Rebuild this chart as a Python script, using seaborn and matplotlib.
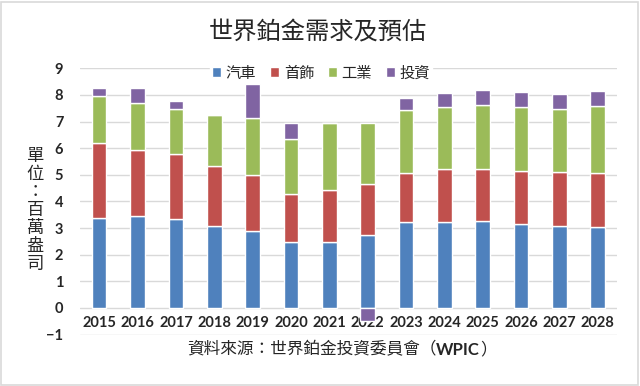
import numpy as np
import matplotlib
matplotlib.use('Agg')
import matplotlib.pyplot as plt
import seaborn as sns
from matplotlib.patches import Rectangle

years = ['2015', '2016', '2017', '2018', '2019', '2020', '2021',
         '2022', '2023', '2024', '2025', '2026', '2027', '2028']
series = ['汽車', '首飾', '工業', '投資']
auto = [3.38, 3.45, 3.33, 3.09, 2.90, 2.48, 2.49, 2.75, 3.21, 3.23, 3.25, 3.16, 3.09, 3.05]
jewelry = [2.81, 2.49, 2.46, 2.25, 2.08, 1.78, 1.95, 1.90, 1.87, 1.98, 1.98, 1.99, 2.02, 2.03]
industrial = [1.77, 1.77, 1.69, 1.89, 2.17, 2.07, 2.52, 2.31, 2.34, 2.35, 2.38, 2.40, 2.37, 2.50]
investment = [0.30, 0.54, 0.28, 0.03, 1.25, 0.60, 0.0, -0.50, 0.47, 0.53, 0.57, 0.56, 0.57, 0.57]
colors = ['#4F81BD', '#C0504D', '#9BBB59', '#8064A2']

sns.set_theme(style='white')
plt.rcParams['font.family'] = ['Noto Sans CJK TC', 'DejaVu Sans']
latin = ['Lato', 'DejaVu Sans']

fig = plt.figure(figsize=(6.4, 3.86), dpi=100)
ax = fig.add_axes([0.125, 0.1334, 0.839, 0.6896])

# stacked bars, negatives stack downward from zero
x = np.arange(len(years))
pos_base = np.zeros(len(years))
neg_base = np.zeros(len(years))
for name, vals, c in zip(series, [auto, jewelry, industrial, investment], colors):
    vals = np.array(vals)
    bottom = np.where(vals >= 0, pos_base, neg_base)
    ax.bar(x, vals, width=0.38, bottom=bottom, color=c, label=name, zorder=3)
    pos_base = pos_base + np.clip(vals, 0, None)
    neg_base = neg_base + np.clip(vals, None, 0)

ax.set_xlim(-0.5, len(years) - 0.5)
ax.set_ylim(-1, 9)
ax.set_yticks(range(-1, 10))
ax.yaxis.grid(True, color='#d9d9d9', linewidth=1, zorder=0)
ax.xaxis.grid(False)
for s in ax.spines.values():
    s.set_visible(False)

ax.set_xticks(x)
ax.set_xticklabels(years)
ax.tick_params(axis='x', length=0, pad=-13)
ax.tick_params(axis='y', length=0, pad=12)
for lab in ax.get_xticklabels() + ax.get_yticklabels():
    lab.set_fontfamily(latin)
    lab.set_fontweight('bold')
    lab.set_fontsize(10.5)

ax.legend(loc='center', bbox_to_anchor=(0.449, 0.982), ncol=4, frameon=True,
          framealpha=1, edgecolor='white', fontsize=11, handlelength=0.6,
          handleheight=0.6, handletextpad=0.3, columnspacing=0.9, borderpad=0.1)

fig.text(0.497, 0.917, '世界鉑金需求及預估', ha='center', va='center', fontsize=17.5)
fig.text(0.055, 0.455, '\n'.join('單位：百萬盎司'), ha='center', va='center',
         fontsize=12.5, linespacing=1.0)

# source line, WPIC in bold
t1 = fig.text(0.292, 0.093, '資料來源：世界鉑金投資委員會（', ha='left', va='center',
              fontsize=12)
t2 = ax.annotate('WPIC', xy=(1, 0.5), xycoords=t1, ha='left', va='center', fontsize=12,
                 fontweight='bold', fontfamily=latin, annotation_clip=False)
ax.annotate('）', xy=(1, 0.5), xycoords=t2, ha='left', va='center', fontsize=12,
            annotation_clip=False)

fig.add_artist(Rectangle((0.002, 0.003), 0.995, 0.993, transform=fig.transFigure,
                         fill=False, edgecolor='#d9d9d9', linewidth=1.2))

fig.savefig('out.png', dpi=100)
